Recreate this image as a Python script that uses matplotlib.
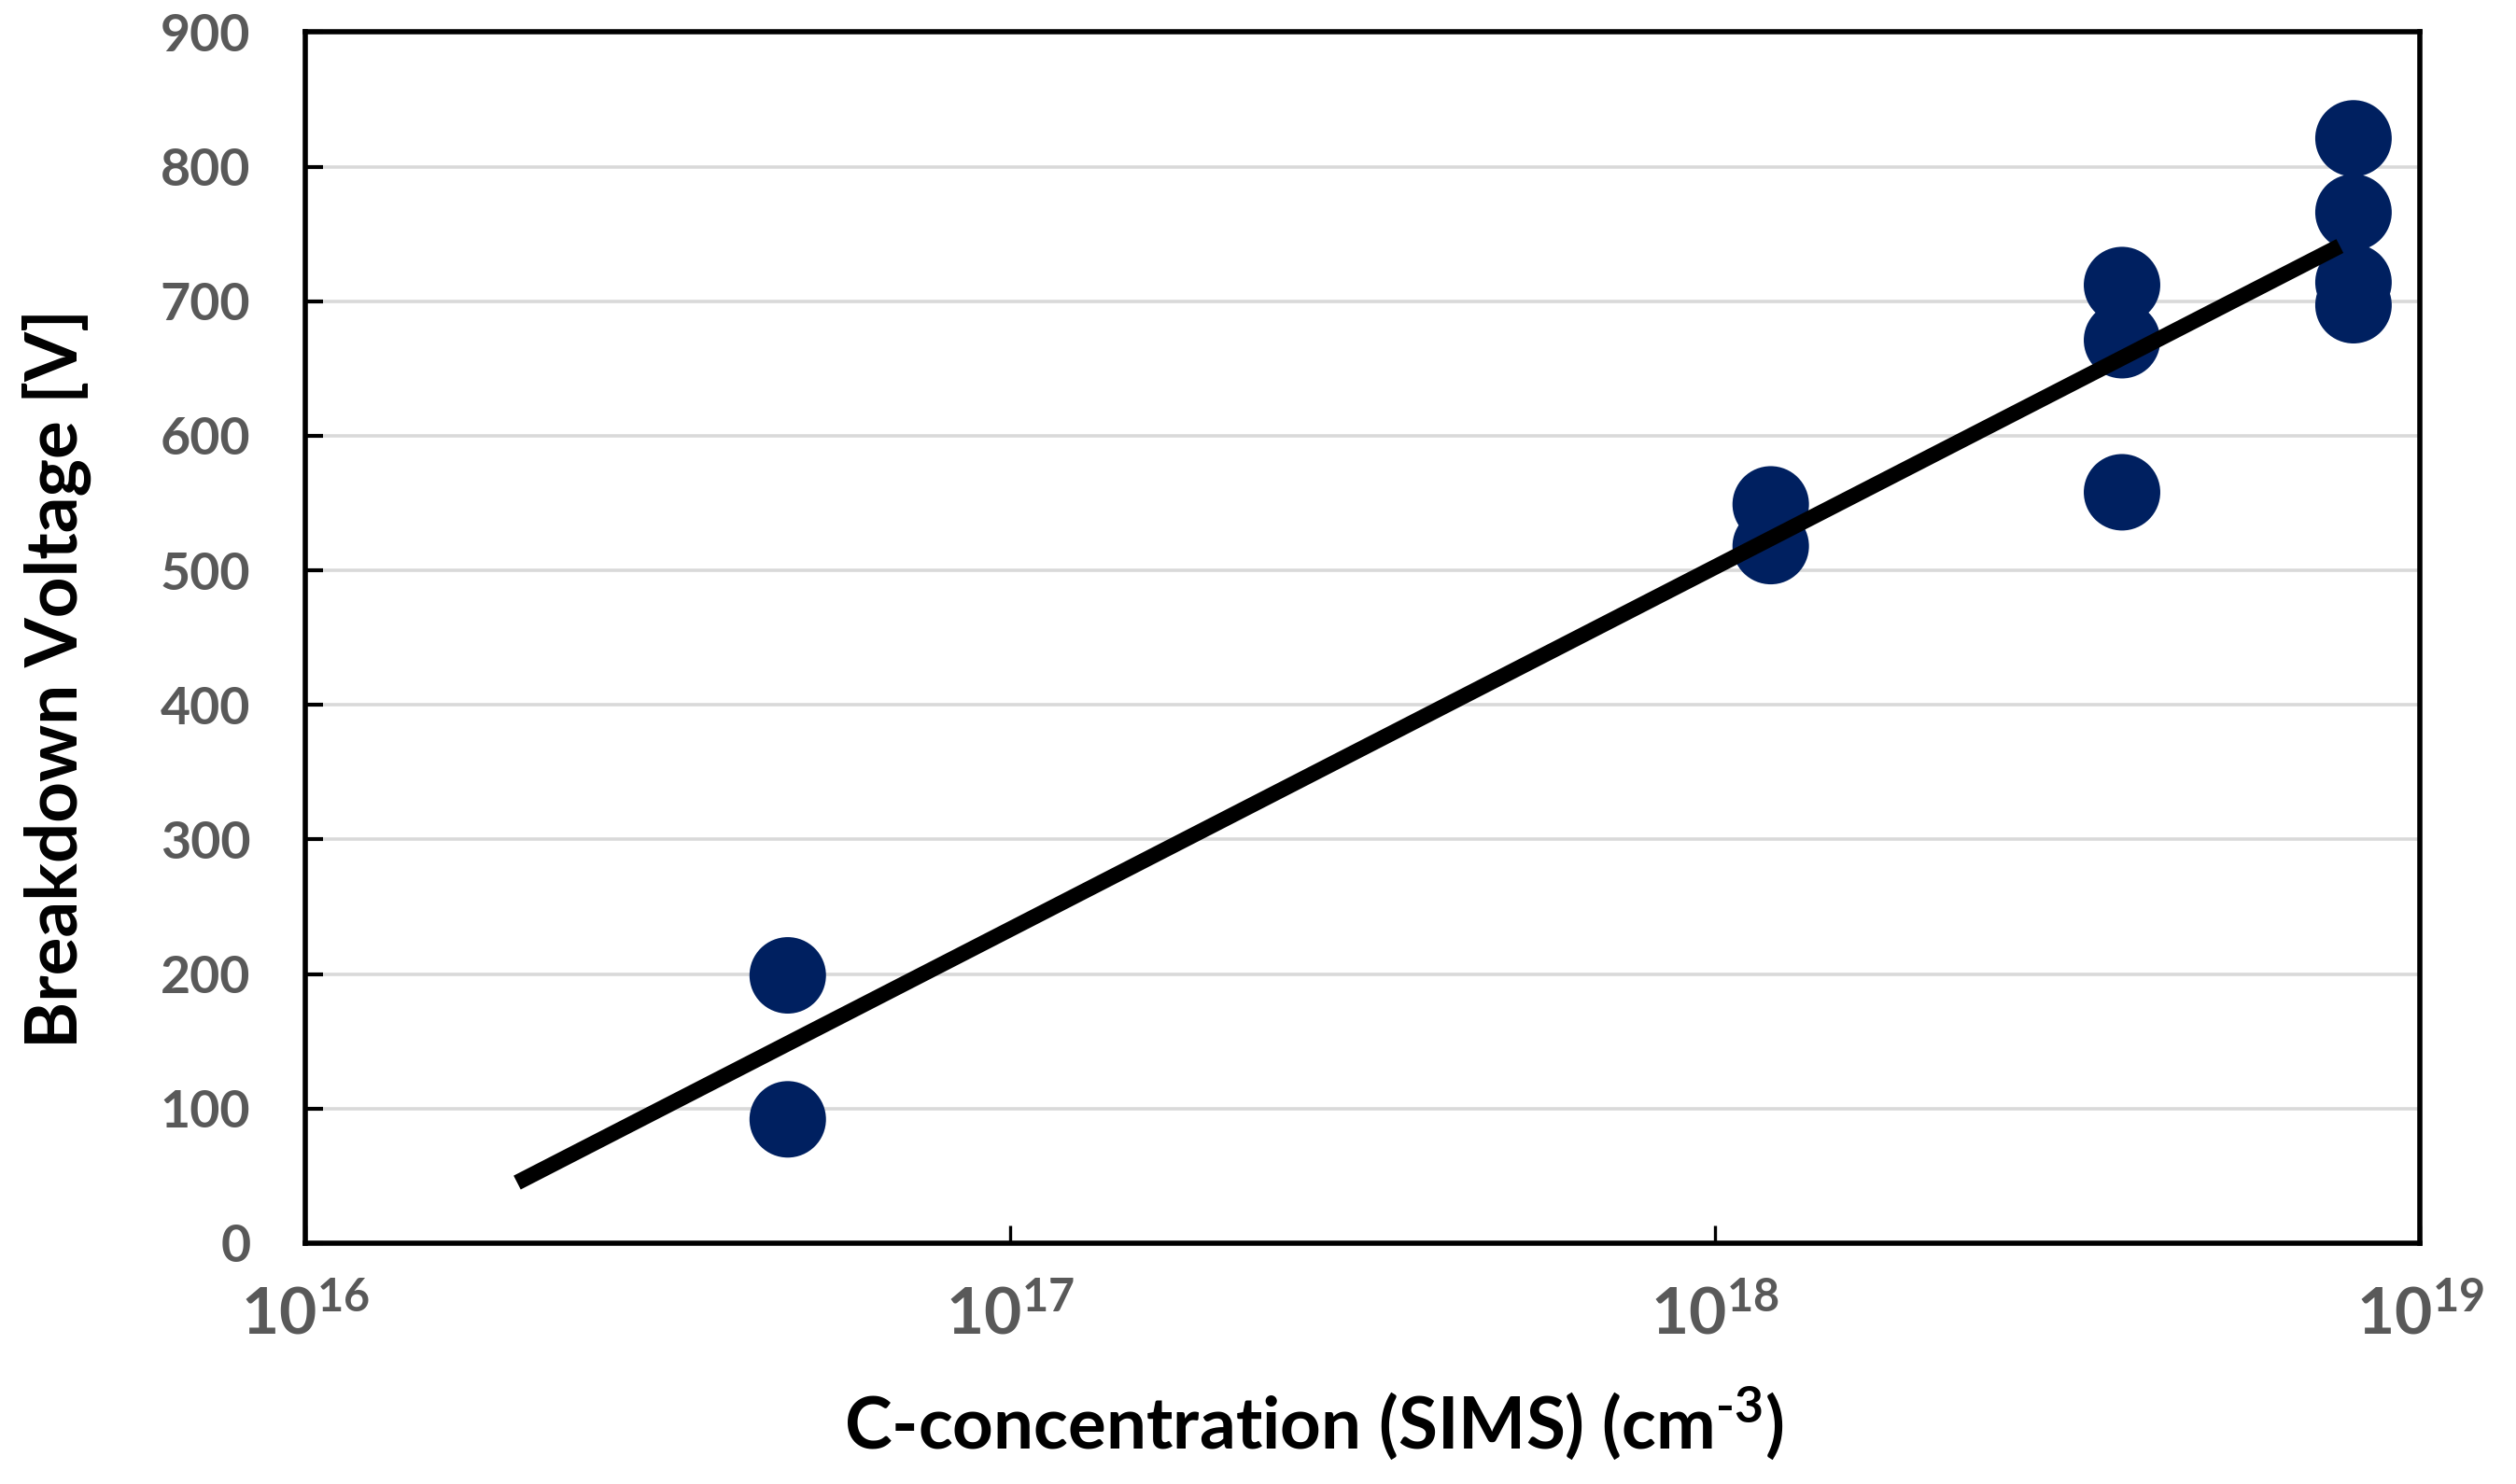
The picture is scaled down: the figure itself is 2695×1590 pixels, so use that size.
import numpy as np
import matplotlib
matplotlib.use('Agg')
import matplotlib.pyplot as plt
from matplotlib.ticker import FixedLocator, NullLocator

# values
c_conc = [4.84e16, 4.84e16, 1.2e18, 1.2e18, 3.78e18, 3.78e18, 3.78e18,
          8.05e18, 8.05e18, 8.05e18, 8.05e18]
breakdown_v = [199, 92, 549, 518, 712, 671, 558, 821, 766, 714, 697]

# trend line end points
fit_x = [2.0e16, 7.7e18]
fit_y = [45, 741]

x_ticks = [1e16, 1e17, 1e18, 1e19]
x_ticklabels = ['$10^{16}$', '$10^{17}$', '$10^{18}$', '$10^{19}$']
y_ticks = list(range(0, 1000, 100))

plt.rcParams['font.family'] = ['Lato', 'DejaVu Sans']
plt.rcParams['mathtext.fontset'] = 'custom'
plt.rcParams['mathtext.rm'] = 'Lato:bold'
plt.rcParams['mathtext.it'] = 'Lato:bold'
plt.rcParams['mathtext.bf'] = 'Lato:bold'

fig = plt.figure(figsize=(13.475, 7.95), dpi=200)
ax = fig.add_axes([0.1212, 0.1623, 0.8406, 0.8161])

ax.scatter(c_conc, breakdown_v, s=29.5 ** 2, color='#002060', edgecolors='none', zorder=3)
ax.plot(fit_x, fit_y, color='black', lw=6, solid_capstyle='butt', zorder=4)

ax.set_xscale('log')
ax.set_xlim(1e16, 1e19)
ax.set_ylim(0, 900)
ax.xaxis.set_major_locator(FixedLocator(x_ticks))
ax.xaxis.set_minor_locator(NullLocator())
ax.set_xticklabels(x_ticklabels)
ax.set_yticks(y_ticks)

ax.yaxis.grid(True, color='#d9d9d9', lw=1.3, zorder=0)
ax.set_axisbelow(True)

for sp in ax.spines.values():
    sp.set_linewidth(2)
    sp.set_color('black')

ax.tick_params(axis='y', direction='in', length=7, width=1.5, pad=21,
               labelsize=20, labelcolor='#595959')
ax.tick_params(axis='x', direction='in', length=7, width=1.2, pad=16,
               labelsize=25, labelcolor='#595959')
for lab in ax.get_yticklabels():
    lab.set_fontweight('bold')

ax.set_xlabel('C-concentration (SIMS) (cm$^{\u20103}$)', fontsize=27.5, fontweight='bold')
ax.set_ylabel('Breakdown Voltage [V]', fontsize=27.5, fontweight='bold')
ax.xaxis.set_label_coords(0.477, -0.117)
ax.yaxis.set_label_coords(-0.101, 0.466)

fig.savefig('out.png', dpi=200, facecolor='white')
